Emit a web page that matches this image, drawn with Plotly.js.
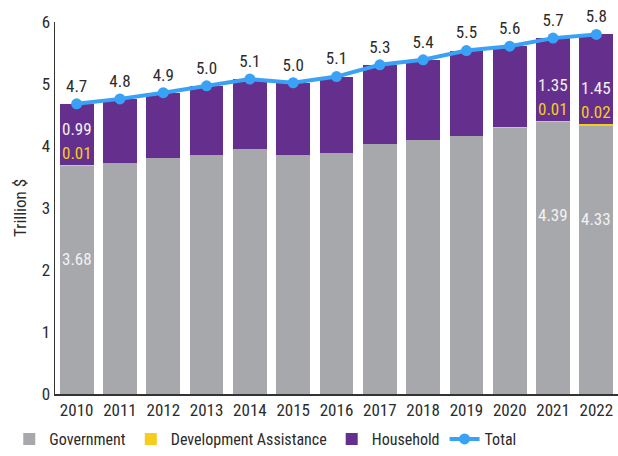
<!DOCTYPE html>
<html>
<head>
<meta charset="utf-8">
<script src="https://cdn.plot.ly/plotly-3.0.1.min.js"></script>
<style>body{margin:0;padding:0;background:#fff;} #chart{width:618px;height:456px;}</style>
</head>
<body>
<div id="chart"></div>
<script>
const years = [2010,2011,2012,2013,2014,2015,2016,2017,2018,2019,2020,2021,2022];
const government = [3.68,3.72,3.80,3.85,3.95,3.85,3.88,4.03,4.10,4.16,4.29,4.39,4.33];
const devAssistance = [0.01,0,0,0,0,0,0,0,0,0,0.01,0.01,0.02];
const household = [0.99,1.04,1.06,1.12,1.13,1.17,1.24,1.28,1.29,1.38,1.31,1.35,1.45];
const total = [4.68,4.76,4.86,4.97,5.08,5.02,5.12,5.31,5.39,5.54,5.61,5.74,5.80];
const labelledYears = [2010,2021,2022];

const FONT = '"Roboto Condensed", "Liberation Sans Narrow", "DejaVu Sans Condensed", Roboto, sans-serif';
const FS = 17;
const GRAY = '#a7a8ab', YELLOW = '#f6cd1c', PURPLE = '#65308d', BLUE = '#3aa2f6', TXT = '#2b2b2b';

const traces = [
  {type:'bar', name:'Government', x:years, y:government, marker:{color:GRAY}, hoverinfo:'skip'},
  {type:'bar', name:'Development Assistance', x:years, y:devAssistance, marker:{color:YELLOW}, hoverinfo:'skip'},
  {type:'bar', name:'Household', x:years, y:household, marker:{color:PURPLE}, hoverinfo:'skip'},
  {type:'scatter', mode:'lines+markers+text', name:'Total', x:years, y:total,
   text: total.map(v=>v.toFixed(1)), textposition:'top center',
   textfont:{family:FONT, size:FS, color:TXT},
   line:{color:BLUE, width:4}, marker:{color:BLUE, size:11}, cliponaxis:false}
];

const annotations = [];
years.forEach((yr,i)=>{
  if(!labelledYears.includes(yr)) return;
  annotations.push({x:yr, y:government[i]-1.5, text:government[i].toFixed(2), showarrow:false,
    font:{family:FONT, size:FS, color:'#f2f2f2'}, xanchor:'center', yanchor:'middle'});
  annotations.push({x:yr, y:government[i]+devAssistance[i], text:devAssistance[i].toFixed(2), showarrow:false,
    font:{family:FONT, size:FS, color:YELLOW}, xanchor:'center', yanchor:'bottom', yshift:0});
  annotations.push({x:yr, y:government[i]+devAssistance[i], text:household[i].toFixed(2), showarrow:false,
    font:{family:FONT, size:FS, color:'#f2f2f2'}, xanchor:'center', yanchor:'bottom', yshift:24});
});

const layout = {
  width:618, height:456,
  margin:{l:55, r:0, t:22, b:62, autoexpand:false},
  barmode:'stack', bargap:0.22,
  paper_bgcolor:'#ffffff', plot_bgcolor:'#ffffff',
  font:{family:FONT, size:FS, color:TXT},
  showlegend:true,
  legend:{orientation:'h', xref:'container', x:0.015, xanchor:'left', yref:'container', y:-0.029, yanchor:'bottom',
          traceorder:'normal', itemwidth:30, font:{family:FONT, size:16, color:TXT}},
  xaxis:{type:'linear', range:[2009.5,2022.5], tickmode:'array', tickvals:years, ticktext:years.map(String),
         showline:true, linecolor:'#333333', linewidth:1.5, ticks:'', showgrid:false, zeroline:false,
         tickfont:{family:FONT, size:FS, color:TXT}},
  yaxis:{range:[0,6], dtick:1, tick0:0, showline:true, linecolor:'#333333', linewidth:1.5, ticks:'', showgrid:false, zeroline:false,
         tickfont:{family:FONT, size:FS, color:TXT},
         title:{text:'Trillion $', font:{family:FONT, size:FS, color:TXT}, standoff:10}},
  annotations: annotations
};

Plotly.newPlot('chart', traces, layout, {displayModeBar:false, staticPlot:true});
</script>
</body>
</html>
